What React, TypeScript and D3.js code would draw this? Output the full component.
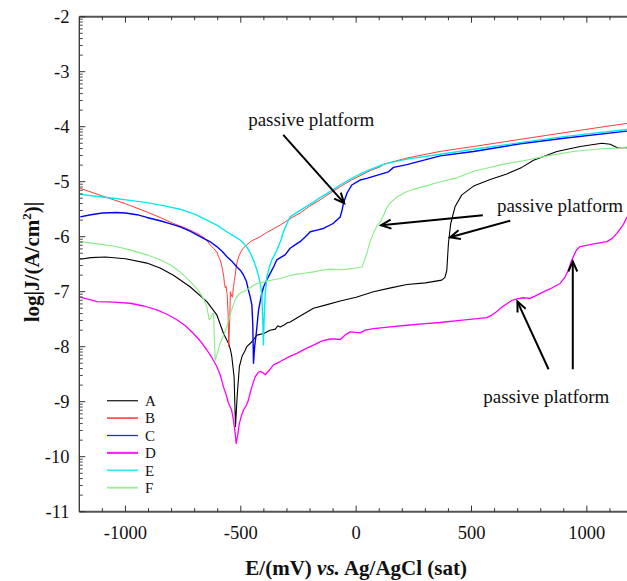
import React from 'react';
import * as d3 from 'd3';

type P = [number, number];

const curveA: P[] = [[-1196,-6.41],[-1150,-6.38],[-1087,-6.37],[-1000,-6.40],[-907,-6.48],[-850,-6.57],[-792,-6.70],[-720,-6.91],[-647,-7.18],[-604,-7.42],[-575,-7.76],[-553,-7.94],[-545,-8.05],[-539,-8.18],[-529,-8.55],[-523,-9.45],[-515,-8.85],[-506,-8.36],[-495,-8.18],[-484,-8.09],[-474,-8.0],[-452,-7.91],[-430,-7.79],[-400,-7.76],[-373,-7.70],[-350,-7.68],[-340,-7.62],[-329,-7.64],[-310,-7.60],[-300,-7.57],[-286,-7.55],[-250,-7.46],[-185,-7.30],[-130,-7.24],[-69,-7.17],[0,-7.10],[75,-7.0],[150,-6.93],[220,-6.87],[300,-6.84],[371,-6.79],[385,-6.74],[393,-6.61],[400,-6.12],[410,-5.76],[429,-5.45],[458,-5.24],[509,-5.08],[581,-4.96],[653,-4.86],[718,-4.74],[769,-4.61],[870,-4.45],[971,-4.36],[1065,-4.30],[1101,-4.32],[1130,-4.38],[1175,-4.38],[1200,-4.37]];

const curveB: P[] = [[-1196,-5.12],[-1100,-5.26],[-1000,-5.40],[-907,-5.55],[-850,-5.65],[-792,-5.76],[-740,-5.84],[-705,-5.91],[-676,-5.97],[-650,-6.05],[-633,-6.15],[-618,-6.21],[-604,-6.28],[-597,-6.36],[-590,-6.42],[-584,-6.50],[-578,-6.63],[-574,-6.72],[-571,-6.85],[-567,-6.93],[-564,-6.90],[-559,-7.05],[-555,-7.40],[-552,-8.0],[-548,-7.5],[-545,-7.0],[-540,-7.08],[-536,-7.10],[-532,-6.92],[-528,-6.80],[-525,-6.72],[-520,-6.55],[-515,-6.45],[-508,-6.35],[-500,-6.28],[-490,-6.21],[-474,-6.15],[-455,-6.08],[-435,-6.04],[-416,-6.0],[-390,-5.93],[-360,-5.86],[-329,-5.79],[-290,-5.68],[-243,-5.57],[-200,-5.44],[-156,-5.33],[-110,-5.20],[-69,-5.09],[-20,-4.97],[17,-4.89],[60,-4.80],[104,-4.73],[121,-4.68],[220,-4.57],[364,-4.45],[509,-4.36],[711,-4.23],[900,-4.11],[1058,-4.01],[1175,-3.94],[1200,-3.92]];

const curveC: P[] = [[-1196,-5.64],[-1150,-5.60],[-1100,-5.57],[-1040,-5.56],[-1000,-5.57],[-950,-5.60],[-907,-5.65],[-850,-5.71],[-800,-5.77],[-763,-5.82],[-720,-5.90],[-662,-6.03],[-630,-6.10],[-604,-6.18],[-580,-6.27],[-561,-6.36],[-540,-6.44],[-517,-6.55],[-500,-6.62],[-488,-6.70],[-475,-6.82],[-467,-6.97],[-460,-7.08],[-452,-7.24],[-448,-7.6],[-445,-8.30],[-440,-8.0],[-433,-7.76],[-423,-7.33],[-410,-7.05],[-401,-6.91],[-387,-6.78],[-373,-6.67],[-358,-6.55],[-344,-6.42],[-325,-6.37],[-308,-6.33],[-286,-6.21],[-265,-6.15],[-243,-6.09],[-220,-6.0],[-199,-5.91],[-170,-5.88],[-142,-5.85],[-100,-5.76],[-69,-5.64],[-60,-5.50],[-55,-5.39],[-40,-5.21],[-19,-5.06],[17,-4.97],[46,-4.94],[118,-4.85],[140,-4.82],[162,-4.74],[220,-4.69],[364,-4.53],[509,-4.45],[711,-4.31],[900,-4.21],[1175,-4.08],[1200,-4.06]];

const curveD: P[] = [[-1196,-7.10],[-1150,-7.15],[-1124,-7.18],[-1050,-7.19],[-980,-7.21],[-920,-7.26],[-864,-7.33],[-820,-7.41],[-777,-7.51],[-740,-7.62],[-705,-7.76],[-675,-7.90],[-647,-8.06],[-625,-8.20],[-604,-8.36],[-588,-8.53],[-575,-8.73],[-563,-8.88],[-553,-9.03],[-540,-9.15],[-532,-9.33],[-525,-9.55],[-520,-9.76],[-513,-9.60],[-506,-9.39],[-497,-9.25],[-488,-9.15],[-475,-9.06],[-467,-8.97],[-460,-8.85],[-452,-8.73],[-438,-8.55],[-425,-8.47],[-416,-8.45],[-405,-8.47],[-394,-8.51],[-375,-8.42],[-358,-8.33],[-329,-8.27],[-290,-8.18],[-257,-8.12],[-220,-8.04],[-185,-7.97],[-150,-7.90],[-113,-7.86],[-90,-7.86],[-69,-7.87],[-45,-7.78],[-26,-7.73],[0,-7.74],[17,-7.75],[40,-7.70],[75,-7.67],[150,-7.64],[220,-7.61],[300,-7.58],[364,-7.56],[450,-7.52],[567,-7.47],[590,-7.42],[610,-7.36],[632,-7.28],[653,-7.22],[675,-7.16],[697,-7.13],[725,-7.11],[754,-7.12],[775,-7.08],[798,-7.03],[840,-6.95],[884,-6.85],[903,-6.75],[920,-6.61],[932,-6.45],[942,-6.36],[955,-6.24],[971,-6.18],[1030,-6.13],[1087,-6.09],[1110,-6.03],[1130,-5.94],[1155,-5.80],[1175,-5.64],[1200,-5.50]];

const curveE: P[] = [[-1196,-5.23],[-1120,-5.27],[-1052,-5.30],[-980,-5.34],[-907,-5.38],[-830,-5.44],[-763,-5.50],[-700,-5.59],[-647,-5.70],[-600,-5.80],[-561,-5.91],[-530,-5.99],[-503,-6.06],[-488,-6.12],[-474,-6.19],[-462,-6.27],[-452,-6.36],[-440,-6.48],[-430,-6.61],[-422,-6.73],[-416,-6.85],[-409,-7.03],[-405,-7.5],[-402,-7.97],[-399,-7.5],[-394,-7.03],[-387,-6.73],[-376,-6.55],[-365,-6.42],[-350,-6.30],[-337,-6.18],[-325,-6.05],[-315,-5.91],[-300,-5.76],[-286,-5.64],[-265,-5.58],[-243,-5.52],[-215,-5.45],[-185,-5.37],[-156,-5.29],[-110,-5.17],[-69,-5.06],[-20,-4.94],[17,-4.86],[60,-4.78],[104,-4.71],[121,-4.68],[220,-4.59],[364,-4.50],[509,-4.41],[711,-4.29],[900,-4.18],[1175,-4.05],[1200,-4.04]];

const curveF: P[] = [[-1196,-6.09],[-1120,-6.13],[-1052,-6.17],[-980,-6.24],[-907,-6.33],[-850,-6.42],[-806,-6.51],[-775,-6.60],[-748,-6.70],[-725,-6.79],[-705,-6.88],[-690,-6.95],[-676,-7.03],[-660,-7.14],[-647,-7.27],[-642,-7.40],[-637,-7.51],[-630,-7.48],[-622,-7.40],[-618,-7.39],[-614,-7.9],[-611,-8.25],[-600,-8.10],[-590,-7.94],[-575,-7.80],[-561,-7.64],[-545,-7.40],[-525,-7.15],[-515,-7.08],[-503,-7.03],[-474,-6.97],[-450,-6.90],[-430,-6.85],[-380,-6.80],[-329,-6.76],[-290,-6.71],[-257,-6.68],[-220,-6.66],[-185,-6.64],[-150,-6.61],[-113,-6.59],[-69,-6.60],[-40,-6.59],[0,-6.57],[25,-6.55],[39,-6.40],[50,-6.25],[61,-6.08],[75,-5.94],[90,-5.80],[104,-5.74],[120,-5.60],[133,-5.47],[147,-5.39],[176,-5.28],[220,-5.18],[248,-5.14],[300,-5.08],[364,-5.00],[437,-4.93],[509,-4.81],[560,-4.76],[640,-4.68],[725,-4.62],[830,-4.53],[942,-4.45],[1060,-4.40],[1130,-4.39],[1175,-4.37],[1200,-4.36]];

const seriesNames = ['A', 'B', 'C', 'D', 'E', 'F'];
const seriesData = [curveA, curveB, curveC, curveD, curveE, curveF];
const seriesColors = ['#000000', '#ff3a3a', '#0000ff', '#ff00ff', '#00eaf0', '#86ee86'];
const seriesWidths = [1.1, 1.0, 1.4, 1.3, 1.4, 1.1];
const legendWidths = [1.3, 1.8, 1.3, 2.2, 1.6, 1.8];

const xMajorTicks = [-1000, -500, 0, 500, 1000];
const xMinorTicks = d3.range(-1100, 1201, 100);
const yMajorTicks = [-11, -10, -9, -8, -7, -6, -5, -4, -3, -2];

// annotations in data coordinates
const annotationTexts = [
  { label: 'passive platform', x: -468, y: -3.98 },
  { label: 'passive platform', x: 610, y: -5.545 },
  { label: 'passive platform', x: 551, y: -9.03 },
];
const arrows: [P, P][] = [
  [[-316, -4.15], [-52, -5.39]],
  [[549, -5.61], [108, -5.79]],
  [[668, -5.71], [407, -6.01]],
  [[834, -8.41], [699, -7.18]],
  [[939, -8.41], [939, -6.45]],
];

const FONT = '"Liberation Serif", "Times New Roman", Times, serif';

export default function App() {
  const W = 627, H = 581;
  const left = 79.3, right = 633, top = 16.7, bottom = 511.7;
  const x = d3.scaleLinear().domain([-1200, 1200]).range([left, right]);
  const y = d3.scaleLinear().domain([-11, -2]).range([bottom, top]);
  const line = d3.line<P>().x(d => x(d[0])).y(d => y(d[1]));

  const yMinor: number[] = [];
  for (let n = -11; n < -2; n++) {
    for (let k = 2; k <= 9; k++) yMinor.push(n + Math.log10(k));
  }

  const arrowHead = (a: P, b: P) => {
    const x1 = x(a[0]), y1 = y(a[1]), x2 = x(b[0]), y2 = y(b[1]);
    const ang = Math.atan2(y2 - y1, x2 - x1);
    const len = 11, s = 0.42;
    const p1 = [x2 - len * Math.cos(ang - s), y2 - len * Math.sin(ang - s)];
    const p2 = [x2 - len * Math.cos(ang + s), y2 - len * Math.sin(ang + s)];
    return `M${p1[0]},${p1[1]}L${x2},${y2}L${p2[0]},${p2[1]}`;
  };

  const axisColor = '#555';
  const legendX0 = 107, legendX1 = 138, legendY0 = 400.7, legendDy = 17.4;
  const tf = { fontFamily: FONT };

  return (
    <svg width={W} height={H} style={{ position: 'absolute', left: 0, top: 0, background: '#fff', fontFamily: FONT }}>
      <rect x={0} y={0} width={W} height={H} fill="#fff" />
      <defs>
        <clipPath id="plotclip">
          <rect x={left} y={top} width={right - left} height={bottom - top} />
        </clipPath>
      </defs>

      {/* curves */}
      <g clipPath="url(#plotclip)">
        {seriesData.map((d, i) => (
          <path key={i} d={line(d) || ''} fill="none" stroke={seriesColors[i]} strokeWidth={seriesWidths[i]} strokeLinejoin="round" />
        ))}
      </g>

      {/* axes frame */}
      <line x1={left} x2={W} y1={top} y2={top} stroke={axisColor} strokeWidth={2} />
      <line x1={left} x2={W} y1={bottom} y2={bottom} stroke={axisColor} strokeWidth={2} />
      <line x1={left} x2={left} y1={top} y2={bottom} stroke="#333" strokeWidth={1.3} />

      {/* x ticks */}
      {xMinorTicks.map(v => {
        const major = v % 500 === 0;
        const L = major ? 6 : 3.5;
        return (
          <g key={'xt' + v}>
            <line x1={x(v)} x2={x(v)} y1={bottom} y2={bottom - L} stroke="#333" strokeWidth={1} />
            <line x1={x(v)} x2={x(v)} y1={top} y2={top + L} stroke="#333" strokeWidth={1} />
          </g>
        );
      })}
      {xMajorTicks.map(v => (
        <text key={'xl' + v} x={x(v)} y={539} textAnchor="middle" fontSize={18.5} fill="#111" style={tf}>{String(v)}</text>
      ))}

      {/* y ticks */}
      {yMajorTicks.map(v => (
        <g key={'yt' + v}>
          <line x1={left} x2={left + 6} y1={y(v)} y2={y(v)} stroke="#333" strokeWidth={1} />
          <text x={69.5} y={y(v)} dy="0.34em" textAnchor="end" fontSize={18.5} fill="#111" style={tf}>{String(v)}</text>
        </g>
      ))}
      {yMinor.map((v, i) => (
        <line key={'ym' + i} x1={left} x2={left + 3.5} y1={y(v)} y2={y(v)} stroke="#333" strokeWidth={0.9} />
      ))}

      {/* axis titles */}
      <text x={(left + right) / 2} y={575} textAnchor="middle" fontSize={21} fontWeight="bold" fill="#111" style={tf}>
        E/(mV) <tspan fontStyle="italic">vs.</tspan> Ag/AgCl (sat)
      </text>
      <text transform="translate(39,262) rotate(-90)" textAnchor="middle" fontSize={21} fontWeight="bold" fill="#111" style={tf}>
        log|J/(A/cm<tspan dy={-8} fontSize={13}>2</tspan><tspan dy={8}>)|</tspan>
      </text>

      {/* legend */}
      {seriesNames.map((n, i) => (
        <g key={'lg' + n}>
          <line x1={legendX0} x2={legendX1} y1={legendY0 + i * legendDy} y2={legendY0 + i * legendDy} stroke={seriesColors[i]} strokeWidth={legendWidths[i]} opacity={0.85} />
          <text x={145} y={legendY0 + i * legendDy} dy="0.35em" fontSize={15} fill="#111" style={tf}>{n}</text>
        </g>
      ))}

      {/* annotations */}
      {annotationTexts.map((t, i) => (
        <text key={'an' + i} x={x(t.x)} y={y(t.y)} fontSize={19} fill="#111" style={tf}>{t.label}</text>
      ))}
      {arrows.map((a, i) => (
        <g key={'ar' + i}>
          <line x1={x(a[0][0])} y1={y(a[0][1])} x2={x(a[1][0])} y2={y(a[1][1])} stroke="#000" strokeWidth={2} />
          <path d={arrowHead(a[0], a[1])} fill="none" stroke="#000" strokeWidth={2} />
        </g>
      ))}
    </svg>
  );
}
